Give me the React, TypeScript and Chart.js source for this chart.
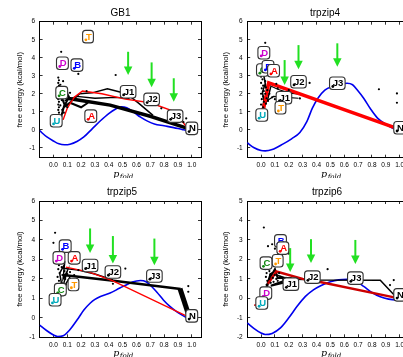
import React, { useEffect, useRef } from "react";
import { Chart, registerables } from "chart.js";
Chart.register(...registerables);

const FONT = "'Liberation Sans', Arial, Helvetica, sans-serif";
const SERIF = "'DejaVu Serif', 'Liberation Serif', serif";

type P = [number, number];

const xTickValues = [0.0, 0.1, 0.2, 0.3, 0.4, 0.5, 0.6, 0.7, 0.8, 0.9, 1.0];
const yTicksA = [-1, 0, 1, 2, 3, 4, 5, 6];
const yTicksB = [-2, -1, 0, 1, 2, 3, 4, 5];

const LABEL_COLORS: Record<string, string> = {
  T: "#ff9900", D: "#cc00cc", B: "#0000ff", C: "#118811", U: "#00aabb", A: "#ff0000",
  J1: "#000", J2: "#000", J3: "#000", N: "#000",
};

// ---------------- GB1 ----------------
const gb1Blue: P[] = [[-0.1, -0.05], [-0.05, -0.38], [0, -0.62], [0.04, -0.78], [0.08, -0.83], [0.12, -0.8], [0.17, -0.65], [0.22, -0.4], [0.28, 0.05], [0.34, 0.5], [0.4, 0.9], [0.45, 1.15], [0.49, 1.27], [0.53, 1.22], [0.58, 0.98], [0.63, 0.7], [0.68, 0.48], [0.73, 0.32], [0.8, 0.22], [0.87, 0.12], [0.93, 0.02], [0.97, -0.04], [1.0, -0.05]];
const gb1Red: P[] = [[0.07, 0.55], [0.1, 1.2], [0.15, 1.8], [0.21, 2.15], [0.35, 2.0], [0.52, 1.7], [0.7, 1.5], [0.88, 1.0], [0.97, 0.08]];
const gb1BlackA: P[] = [[0.1, 1.75], [0.2, 1.62], [0.41, 1.37], [0.7, 0.75], [0.97, 0.08]];
const gb1BlackB: P[] = [[0.09, 1.3], [0.19, 2.0], [0.28, 2.05], [0.39, 2.28], [0.53, 2.0], [0.62, 1.45], [0.72, 0.8]];
const gb1BlackC: P[] = [[0.08, 1.6], [0.17, 1.85], [0.3, 1.75], [0.45, 1.8], [0.55, 1.75]];
const gb1BlackD: P[] = [[0.055, 0.7], [0.08, 1.4], [0.065, 1.7], [0.1, 2.05], [0.085, 2.35], [0.11, 1.8], [0.075, 1.25], [0.12, 1.5], [0.2, 1.25], [0.25, 1.5]];
const gb1Dots: P[] = [[0.035, 2.9], [0.04, 2.75], [0.035, 2.6], [0.04, 2.45], [0.035, 2.3], [0.04, 2.15], [0.035, 2.0], [0.04, 1.85], [0.035, 1.7], [0.04, 1.55], [0.035, 1.4], [0.04, 1.25], [0.035, 1.1], [0.04, 0.95], [0.035, 0.8], [0.05, 2.5], [0.055, 2.2], [0.05, 1.9], [0.06, 1.65], [0.05, 1.35], [0.065, 1.1], [0.07, 2.7], [0.08, 2.35], [0.09, 2.1], [0.1, 1.95], [0.095, 1.7], [0.11, 1.85], [0.12, 2.05], [0.085, 1.45], [0.1, 1.25], [0.075, 0.95], [0.13, 1.7], [0.056, 4.33], [0.18, 3.1], [0.45, 3.04], [0.24, 2.15], [0.78, 1.19], [0.96, 0.63], [0.94, 0.42]];
const gb1LabelText = ["T", "D", "B", "C", "U", "A", "J1", "J2", "J3", "N"];
const gb1LabelX = [0.25, 0.065, 0.17, 0.06, 0.02, 0.27, 0.54, 0.71, 0.88, 1.0];
const gb1LabelY = [5.17, 3.69, 3.59, 2.06, 0.5, 0.76, 2.11, 1.69, 0.76, 0.08];
const gb1ArrowX = [0.54, 0.71, 0.87];
const gb1ArrowTop = [4.33, 3.74, 2.86];
const gb1ArrowTip = [3.04, 2.36, 1.56];

// ---------------- trpzip4 ----------------
const tz4Blue: P[] = [[-0.1, -0.72], [-0.05, -1.0], [0.0, -1.15], [0.03, -1.17], [0.08, -1.1], [0.16, -0.78], [0.22, -0.5], [0.28, -0.15], [0.33, 0.45], [0.37, 1.2], [0.41, 1.75], [0.46, 2.2], [0.52, 2.42], [0.58, 2.55], [0.62, 2.58], [0.66, 2.5], [0.7, 2.15], [0.74, 1.75], [0.79, 1.15], [0.84, 0.65], [0.9, 0.3], [0.95, 0.08], [1.0, -0.02]];
const tz4Red: P[] = [[0.015, 1.05], [0.055, 2.6], [0.98, 0.08]];
const tz4BlackA: P[] = [[0.05, 2.5], [0.12, 2.25], [0.2, 2.05], [0.3, 1.95]];
const tz4BlackB: P[] = [[0.04, 1.6], [0.09, 1.85], [0.18, 1.8], [0.27, 1.75]];
const tz4BlackC: P[] = [[0.005, 0.95], [0.02, 1.6], [0.01, 2.1], [0.03, 2.55], [0.02, 3.0], [0.04, 2.2], [0.025, 1.35], [0.05, 1.75], [0.07, 2.4]];
const tz4Dots: P[] = [[0.0, 2.95], [0.01, 2.8], [0.0, 2.6], [0.015, 2.45], [0.005, 2.3], [0.02, 2.15], [0.0, 2.0], [0.015, 1.85], [0.005, 1.7], [0.02, 1.55], [0.0, 1.4], [0.015, 1.25], [0.005, 1.1], [0.02, 0.95], [0.03, 2.7], [0.035, 2.35], [0.03, 2.0], [0.04, 1.75], [0.035, 1.45], [0.045, 2.2], [0.05, 1.6], [0.06, 2.0], [0.08, 1.8], [0.1, 1.7], [0.12, 2.3], [0.15, 1.95], [0.2, 2.2], [0.11, 2.55], [0.03, 4.83], [0.35, 2.6], [0.28, 1.74], [0.85, 2.25], [0.98, 2.02], [0.98, 1.5]];
const tz4LabelText = ["D", "C", "B", "A", "J2", "J3", "J1", "T", "U", "N"];
const tz4LabelX = [0.02, 0.01, 0.05, 0.09, 0.27, 0.55, 0.165, 0.14, 0.005, 1.0];
const tz4LabelY = [4.28, 3.32, 3.5, 3.28, 2.67, 2.58, 1.78, 1.22, 0.82, 0.11];
const tz4ArrowX = [0.17, 0.27, 0.55];
const tz4ArrowTop = [3.87, 4.7, 4.8];
const tz4ArrowTip = [2.48, 3.36, 3.5];

// ---------------- trpzip5 ----------------
const tz5Blue: P[] = [[-0.1, -0.37], [-0.05, -0.65], [0.0, -0.88], [0.03, -0.96], [0.07, -0.92], [0.12, -0.6], [0.18, -0.02], [0.22, 0.4], [0.265, 0.75], [0.3, 0.95], [0.34, 1.1], [0.41, 1.27], [0.48, 1.53], [0.53, 1.7], [0.57, 1.84], [0.63, 1.92], [0.67, 1.85], [0.71, 1.61], [0.75, 1.3], [0.795, 0.92], [0.84, 0.6], [0.89, 0.32], [0.94, 0.1], [0.975, -0.02], [1.0, -0.05]];
const tz5Red: P[] = [[0.09, 2.6], [0.26, 2.35], [0.43, 1.9], [0.975, 0.05]];
const tz5RedShort: P[] = [[-0.03, 0.8], [0.01, 0.82]];
const tz5BlackA: P[] = [[0.07, 2.2], [0.42, 1.92], [0.92, 1.48]];
const tz5BlackWedge: P[] = [[0.915, 1.5], [0.98, 0.1]];
const tz5BlackB: P[] = [[0.07, 2.55], [0.18, 2.45], [0.3, 2.25], [0.43, 1.95]];
const tz5BlackC: P[] = [[0.04, 1.1], [0.06, 1.7], [0.045, 2.3], [0.08, 2.75], [0.07, 2.0], [0.1, 2.4], [0.06, 1.4], [0.12, 2.1]];
const tz5Dots: P[] = [[0.03, 2.85], [0.04, 2.7], [0.035, 2.5], [0.045, 2.3], [0.03, 2.1], [0.04, 1.9], [0.035, 1.7], [0.045, 1.5], [0.04, 1.3], [0.05, 1.1], [0.06, 2.6], [0.065, 2.2], [0.06, 1.8], [0.07, 1.45], [0.08, 2.4], [0.085, 2.0], [0.09, 1.7], [0.1, 2.25], [0.11, 1.95], [0.12, 2.35], [0.15, 2.2], [0.18, 2.45], [0.05, 3.4], [0.012, 4.37], [0.0, 3.85], [0.52, 2.53], [0.43, 1.75], [0.975, 1.63], [0.975, 1.34]];
const tz5LabelText = ["B", "D", "A", "J1", "J2", "J3", "C", "T", "U", "N"];
const tz5LabelX = [0.085, 0.04, 0.15, 0.265, 0.43, 0.73, 0.05, 0.145, 0.012, 1.0];
const tz5LabelY = [3.68, 3.08, 3.08, 2.69, 2.35, 2.15, 1.45, 1.71, 0.93, 0.1];
const tz5ArrowX = [0.265, 0.43, 0.73];
const tz5ArrowTop = [4.59, 4.2, 4.07];
const tz5ArrowTip = [3.33, 2.79, 2.7];

// ---------------- trpzip6 ----------------
const tz6Blue: P[] = [[-0.1, -1.26], [-0.05, -1.55], [0.0, -1.78], [0.03, -1.86], [0.08, -1.8], [0.14, -1.52], [0.2, -1.0], [0.26, -0.41], [0.32, 0.1], [0.38, 0.45], [0.43, 0.65], [0.5, 0.85], [0.56, 0.95], [0.62, 0.98], [0.68, 0.9], [0.74, 0.62], [0.8, 0.3], [0.86, 0.08], [0.92, -0.04], [0.97, -0.08], [1.0, -0.05]];
const tz6Red: P[] = [[0.05, 0.75], [0.11, 1.38], [0.3, 1.0], [0.4, 0.88], [0.96, 0.05]];
const tz6RedShort: P[] = [[-0.05, -0.35], [-0.01, -0.3]];
const tz6BlackA: P[] = [[0.11, 1.2], [0.2, 1.0], [0.3, 0.97], [0.42, 0.94], [0.86, 0.93], [0.97, 0.1]];
const tz6BlackB: P[] = [[0.04, 0.5], [0.07, 1.3], [0.055, 0.95], [0.1, 1.5], [0.12, 1.05], [0.2, 1.05], [0.15, 0.85], [0.07, 0.65], [0.25, 0.95]];
const tz6Dots: P[] = [[0.03, 1.5], [0.04, 1.3], [0.035, 1.1], [0.045, 0.9], [0.04, 0.7], [0.05, 0.5], [0.06, 1.4], [0.065, 1.2], [0.06, 1.0], [0.07, 0.8], [0.08, 1.3], [0.085, 1.05], [0.09, 0.85], [0.1, 1.2], [0.11, 1.0], [0.12, 0.9], [0.14, 1.1], [0.16, 0.95], [0.18, 1.05], [0.2, 0.9], [0.13, 1.3], [0.07, 1.6], [0.02, 3.64], [0.05, 2.68], [0.08, 2.78], [0.1, 2.55], [0.48, 1.5], [0.957, 0.94], [0.93, 0.68], [0.2, 2.3]];
const tz6LabelText = ["B", "A", "C", "T", "J1", "J2", "J3", "D", "U", "N"];
const tz6LabelX = [0.14, 0.157, 0.036, 0.12, 0.215, 0.37, 0.68, 0.034, 0.005, 1.0];
const tz6LabelY = [2.95, 2.58, 1.81, 1.93, 0.73, 1.09, 1.04, 0.27, -0.24, 0.18];
const tz6ArrowX = [0.21, 0.36, 0.68];
const tz6ArrowTop = [2.58, 3.04, 3.0];
const tz6ArrowTip = [1.35, 1.81, 1.76];

// ---------------- helpers ----------------
const pts = (a: P[]) => a.map(([x, y]) => ({ x, y }));
const lineDs = (data: P[], color: string, width: number) => ({
  data: pts(data), showLine: true, borderColor: color, borderWidth: width,
  pointRadius: 0, fill: false, borderJoinStyle: "miter" as const,
});
const dotsDs = (data: P[]) => ({
  data: pts(data), showLine: false, pointRadius: 1.1, pointBackgroundColor: "#000",
  pointBorderWidth: 0, borderColor: "#000",
});
const blueDs = (data: P[]) => ({
  data: pts(data), showLine: true, borderColor: "#0000ee", borderWidth: 1.6,
  pointRadius: 0, fill: false, cubicInterpolationMode: "monotone" as const,
});

interface PanelCfg {
  title: string;
  left: number; top: number; w: number; h: number;
  yW: number; y2W: number; xH: number;
  titlePadTop: number; titlePadBottom: number; yTitlePad: number;
  yMin: number; yMax: number; yTicks: number[];
  datasets: any[];
  labelText: string[]; labelX: number[]; labelY: number[];
  arrowX: number[]; arrowTop: number[]; arrowTip: number[];
}

const X_MIN = -0.1;
const X_MAX = 1.067;

const panels: PanelCfg[] = [
  {
    title: "GB1", left: 0, top: 0, w: 241, h: 178, yW: 39.6, y2W: 40, xH: 20.3,
    titlePadTop: 7, titlePadBottom: 2.7, yTitlePad: 15.2,
    yMin: -1.55, yMax: 6, yTicks: yTicksA,
    datasets: [dotsDs(gb1Dots), lineDs(gb1Red, "#ff0000", 1.4), lineDs(gb1BlackA, "#000", 3.5), lineDs(gb1BlackB, "#000", 1.5), lineDs(gb1BlackC, "#000", 1.3), lineDs(gb1BlackD, "#000", 2), blueDs(gb1Blue)],
    labelText: gb1LabelText, labelX: gb1LabelX, labelY: gb1LabelY,
    arrowX: gb1ArrowX, arrowTop: gb1ArrowTop, arrowTip: gb1ArrowTip,
  },
  {
    title: "trpzip4", left: 205, top: 0, w: 240, h: 178, yW: 42.2, y2W: 36, xH: 20.3,
    titlePadTop: 7, titlePadBottom: 2.7, yTitlePad: 16.2,
    yMin: -1.55, yMax: 6, yTicks: yTicksA,
    datasets: [dotsDs(tz4Dots), lineDs(tz4Red, "#ff0000", 3.5), lineDs(tz4BlackA, "#000", 1.2), lineDs(tz4BlackB, "#000", 1.2), lineDs(tz4BlackC, "#000", 1.5), blueDs(tz4Blue)],
    labelText: tz4LabelText, labelX: tz4LabelX, labelY: tz4LabelY,
    arrowX: tz4ArrowX, arrowTop: tz4ArrowTop, arrowTip: tz4ArrowTip,
  },
  {
    title: "trpzip5", left: 0, top: 178, w: 244, h: 179, yW: 39.6, y2W: 43, xH: 19.7,
    titlePadTop: 8, titlePadBottom: 3, yTitlePad: 15.2,
    yMin: -1, yMax: 6, yTicks: yTicksA,
    datasets: [dotsDs(tz5Dots), lineDs(tz5Red, "#ff0000", 1.3), lineDs(tz5RedShort, "#ff0000", 1.3), lineDs(tz5BlackA, "#000", 2.5), lineDs(tz5BlackWedge, "#000", 5), lineDs(tz5BlackB, "#000", 1.5), lineDs(tz5BlackC, "#000", 1.5), blueDs(tz5Blue)],
    labelText: tz5LabelText, labelX: tz5LabelX, labelY: tz5LabelY,
    arrowX: tz5ArrowX, arrowTop: tz5ArrowTop, arrowTip: tz5ArrowTip,
  },
  {
    title: "trpzip6", left: 205, top: 178, w: 244, h: 179, yW: 42.2, y2W: 40, xH: 19.7,
    titlePadTop: 8, titlePadBottom: 3, yTitlePad: 16.2,
    yMin: -2, yMax: 5, yTicks: yTicksB,
    datasets: [dotsDs(tz6Dots), lineDs(tz6Red, "#cc0000", 2.5), lineDs(tz6RedShort, "#cc0000", 1.5), lineDs(tz6BlackA, "#000", 1.5), lineDs(tz6BlackB, "#000", 2), blueDs(tz6Blue)],
    labelText: tz6LabelText, labelX: tz6LabelX, labelY: tz6LabelY,
    arrowX: tz6ArrowX, arrowTop: tz6ArrowTop, arrowTip: tz6ArrowTip,
  },
];

function makeAnnot(cfg: PanelCfg) {
  return {
    id: "annot",
    afterDatasetsDraw(chart: any) {
      const { ctx, scales } = chart;
      const xs = scales.x, ys = scales.y;
      ctx.save();
      // green arrows
      for (let i = 0; i < cfg.arrowX.length; i++) {
        const px = xs.getPixelForValue(cfg.arrowX[i]);
        const pTop = ys.getPixelForValue(cfg.arrowTop[i]);
        const pTip = ys.getPixelForValue(cfg.arrowTip[i]);
        const headH = 8.5, headW = 8.5;
        ctx.strokeStyle = "#22e022";
        ctx.fillStyle = "#22e022";
        ctx.lineWidth = 2;
        ctx.beginPath();
        ctx.moveTo(px, pTop);
        ctx.lineTo(px, pTip - headH + 1);
        ctx.stroke();
        ctx.beginPath();
        ctx.moveTo(px - headW / 2, pTip - headH);
        ctx.lineTo(px + headW / 2, pTip - headH);
        ctx.lineTo(px, pTip);
        ctx.closePath();
        ctx.fill();
      }
      // labels
      ctx.font = `bold 9.5px ${FONT}`;
      for (let i = 0; i < cfg.labelText.length; i++) {
        const t = cfg.labelText[i];
        const col = LABEL_COLORS[t] || "#000";
        const px = xs.getPixelForValue(cfg.labelX[i]);
        const py = ys.getPixelForValue(cfg.labelY[i]);
        const tw = ctx.measureText(t).width;
        const w = tw + 5, h = 12.5;
        ctx.beginPath();
        ctx.roundRect(px - w / 2, py - h / 2, w, h, 3);
        ctx.fillStyle = "#fff";
        ctx.fill();
        ctx.lineWidth = 1.1;
        ctx.strokeStyle = "#333";
        ctx.stroke();
        ctx.fillStyle = col;
        ctx.textAlign = "center";
        ctx.textBaseline = "middle";
        ctx.fillText(t, px + 0.8, py + 0.5);
        ctx.beginPath();
        ctx.arc(px + 0.8 - tw / 2, py + 3.2, 1.4, 0, Math.PI * 2);
        ctx.fill();
      }
      ctx.restore();
    },
    afterDraw(chart: any) {
      const { ctx, chartArea } = chart;
      ctx.save();
      const cx = (chartArea.left + chartArea.right) / 2 + 3;
      const cy = chartArea.bottom + 17.5;
      ctx.fillStyle = "#000";
      ctx.textBaseline = "middle";
      ctx.textAlign = "left";
      ctx.font = `italic 9.5px ${SERIF}`;
      const pw = ctx.measureText("p").width;
      ctx.font = `italic 7px ${SERIF}`;
      const fw = ctx.measureText("fold").width;
      const x0 = cx - (pw + fw + 0.5) / 2;
      ctx.font = `italic 9.5px ${SERIF}`;
      ctx.fillText("p", x0, cy - 1);
      ctx.font = `italic 7px ${SERIF}`;
      ctx.fillText("fold", x0 + pw + 0.5, cy + 1.5);
      ctx.restore();
    },
  };
}

function buildConfig(cfg: PanelCfg): any {
  const tickFont = { family: FONT, size: 6.5 };
  const grid = { drawOnChartArea: false, drawTicks: true, tickLength: -3, color: "#000", lineWidth: 0.8 };
  const border = { display: true, color: "#000", width: 1 };
  const setX = (s: any) => { s.ticks = xTickValues.map((v) => ({ value: v })); };
  const setY = (s: any) => { s.ticks = cfg.yTicks.map((v) => ({ value: v })); };
  return {
    type: "scatter",
    data: { datasets: cfg.datasets },
    plugins: [makeAnnot(cfg)],
    options: {
      animation: false,
      responsive: false,
      maintainAspectRatio: false,
      events: [],
      layout: { padding: 0, autoPadding: false },
      plugins: {
        legend: { display: false },
        tooltip: { enabled: false },
        title: {
          display: true, text: cfg.title, color: "#000", fullSize: true,
          font: { family: FONT, size: 10, weight: "normal" },
          padding: { top: cfg.titlePadTop, bottom: cfg.titlePadBottom },
        },
      },
      scales: {
        x: {
          type: "linear", position: "bottom", min: X_MIN, max: X_MAX, display: true,
          grid, border,
          ticks: { autoSkip: false, maxRotation: 0, font: tickFont, color: "#000", padding: 7.1, callback: (v: any) => Number(v).toFixed(1) },
          afterBuildTicks: setX,
          afterFit: (s: any) => { s.height = cfg.xH; },
        },
        x2: {
          type: "linear", position: "top", min: X_MIN, max: X_MAX, display: true,
          grid, border,
          ticks: { display: false },
          afterBuildTicks: setX,
          afterFit: (s: any) => { s.height = 0; },
        },
        y: {
          type: "linear", position: "left", min: cfg.yMin, max: cfg.yMax, display: true,
          grid, border,
          title: { display: true, text: "free energy (kcal/mol)", color: "#000", font: { family: FONT, size: 7.8 }, padding: { top: cfg.yTitlePad, bottom: 0 } },
          ticks: { autoSkip: false, font: tickFont, color: "#000", padding: 7.5, callback: (v: any) => String(v) },
          afterBuildTicks: setY,
          afterFit: (s: any) => { s.width = cfg.yW; },
        },
        y2: {
          type: "linear", position: "right", min: cfg.yMin, max: cfg.yMax, display: true,
          grid, border,
          ticks: { display: false },
          afterBuildTicks: setY,
          afterFit: (s: any) => { s.width = cfg.y2W; },
        },
      },
    },
  };
}

function Panel({ cfg }: { cfg: PanelCfg }) {
  const ref = useRef<HTMLCanvasElement>(null);
  useEffect(() => {
    const chart = new Chart(ref.current as HTMLCanvasElement, buildConfig(cfg));
    return () => chart.destroy();
  }, [cfg]);
  return (
    <canvas
      ref={ref}
      width={cfg.w}
      height={cfg.h}
      style={{ position: "absolute", left: cfg.left, top: cfg.top, width: cfg.w, height: cfg.h }}
    />
  );
}

export default function App() {
  return (
    <div style={{ position: "fixed", left: 0, top: 0, width: 403, height: 357, overflow: "hidden", background: "#fff" }}>
      {panels.map((p) => (
        <Panel key={p.title} cfg={p} />
      ))}
    </div>
  );
}
